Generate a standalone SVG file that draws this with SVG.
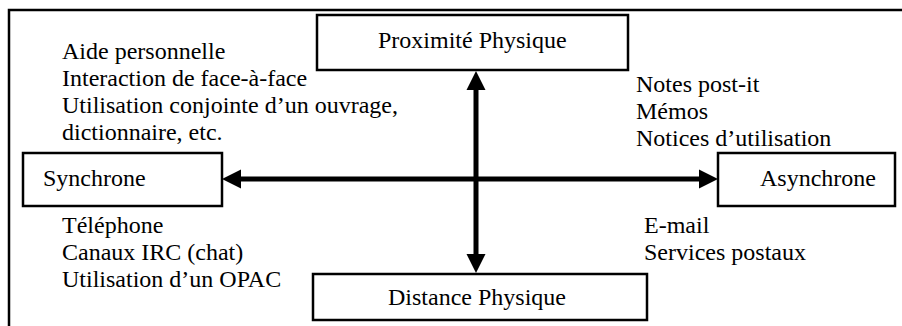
<svg xmlns="http://www.w3.org/2000/svg" width="902" height="326" viewBox="0 0 902 326">
<style>
.box{fill:#fff;stroke:#000;stroke-width:2.5}
.t{font-family:"Liberation Serif","Times New Roman",serif;font-size:24px;fill:#000}
.c{text-anchor:middle}
.frame{fill:none;stroke:#000;stroke-width:2.5}
.shaft{stroke:#000;stroke-width:5;fill:none}
.head{fill:#000}
</style>
<rect width="902" height="326" fill="#fff"/>
<path class="frame" d="M9,326 V10 H902"/>
<g id="connectors">
<line class="shaft" x1="236" y1="179" x2="704" y2="179"/>
<polygon class="head" points="222,179 241,169.5 241,188.5"/>
<polygon class="head" points="718,179 699,169.5 699,188.5"/>
<line class="shaft" x1="476" y1="85" x2="476" y2="258"/>
<polygon class="head" points="476,71 466.5,90 485.5,90"/>
<polygon class="head" points="476,273 466.5,254 485.5,254"/>
</g>
<g id="proximite">
<rect class="box" x="317" y="15" width="311" height="55"/>
<text class="t" x="378" y="48">Proximité Physique</text>
</g>
<g id="distance">
<rect class="box" x="313" y="274" width="334" height="46"/>
<text class="t c" x="477" y="305">Distance Physique</text>
</g>
<g id="synchrone">
<rect class="box" x="23" y="153" width="199" height="53"/>
<text class="t" x="43" y="186">Synchrone</text>
</g>
<g id="asynchrone">
<rect class="box" x="718" y="153" width="177" height="53"/>
<text class="t" x="760" y="186">Asynchrone</text>
</g>
<g id="sync-proche">
<text class="t" x="62" y="59">Aide personnelle</text>
<text class="t" x="62" y="86">Interaction de face-à-face</text>
<text class="t" x="62" y="113">Utilisation conjointe d’un ouvrage,</text>
<text class="t" x="62" y="140">dictionnaire, etc.</text>
</g>
<g id="async-proche">
<text class="t" x="636" y="92">Notes post-it</text>
<text class="t" x="636" y="119">Mémos</text>
<text class="t" x="636" y="146">Notices d’utilisation</text>
</g>
<g id="sync-distance">
<text class="t" x="62" y="233">Téléphone</text>
<text class="t" x="62" y="260">Canaux IRC (chat)</text>
<text class="t" x="62" y="287">Utilisation d’un OPAC</text>
</g>
<g id="async-distance">
<text class="t" x="644" y="233">E-mail</text>
<text class="t" x="644" y="260">Services postaux</text>
</g>
</svg>
